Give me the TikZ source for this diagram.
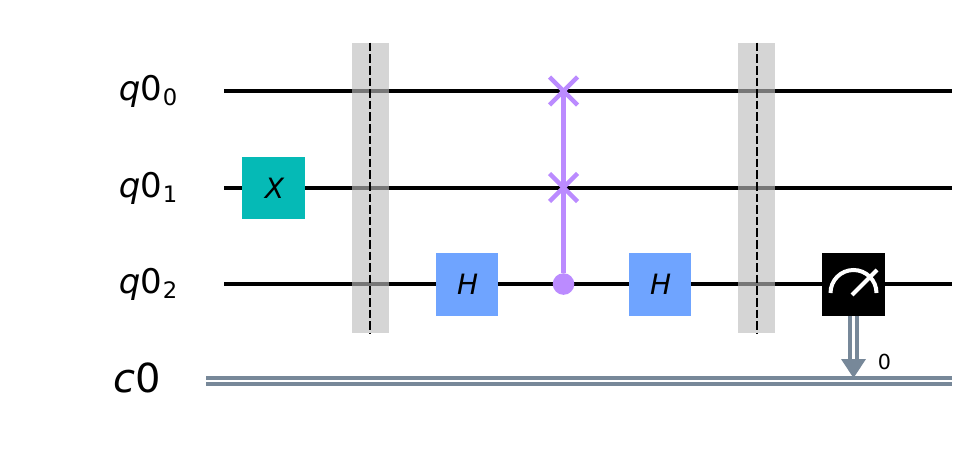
\documentclass[tikz,border=0pt]{standalone}
\usepackage{fontspec}
\setmainfont{DejaVu Sans}
\definecolor{gatex}{HTML}{05BAB6}
\definecolor{gateh}{HTML}{6FA4FF}
\definecolor{swapc}{HTML}{BB8BFF}
\definecolor{clbit}{HTML}{778899}
\definecolor{shade}{HTML}{BDBDBD}
\newcommand{\qlabel}[1]{\fontsize{25.5pt}{27pt}\selectfont\textit{q}0\kern0.6pt\raisebox{-4pt}{\fontsize{17pt}{19pt}\selectfont #1}}
\tikzset{
  wire/.style={line width=3.3pt,black},
  cwire/.style={line width=3.2pt,clbit},
  gatebox/.style={minimum width=47pt,minimum height=47pt,inner sep=0pt,font=\fontsize{21pt}{23pt}\selectfont\itshape},
  barrierbox/.style={fill=shade,fill opacity=.63,minimum width=27.75pt,minimum height=217.5pt,inner sep=0pt},
  swapline/.style={line width=3.2pt,swapc},
  lbl/.style={anchor=base east,inner sep=0pt}
}
\begin{document}
\begin{tikzpicture}[x=0.75pt,y=-0.75pt]
  \useasboundingbox (0,0) rectangle (974,454);
  % quantum wires
  \foreach \n/\y in {0/91,1/187.7,2/284} {
    \coordinate (qin\n) at (224,\y);
    \coordinate (qout\n) at (952,\y);
    \draw[wire] (qin\n) -- (qout\n);
  }
  % classical wire
  \foreach \n/\y in {a/378,b/384} {
    \coordinate (cin\n) at (206,\y);
    \coordinate (cout\n) at (952,\y);
    \draw[cwire] (cin\n) -- (cout\n);
  }
  \node[lbl] (lblq0) at (177.5,100.5) {\qlabel{0}};
  \node[lbl] (lblq1) at (177.5,197) {\qlabel{1}};
  \node[lbl] (lblq2) at (177.5,293.5) {\qlabel{2}};
  \node[lbl,font=\fontsize{30pt}{32pt}\selectfont] (lblc) at (161,392) {\textit{c}0};
  % barriers
  \foreach \n/\x/\d in {a/370.5/-0.4,b/756.5/0.2} {
    \node[barrierbox] (bar\n) at (\x,188) {};
    \draw[line width=1.6pt,dash pattern=on 6.5pt off 2.2pt] ([xshift=\d pt]bar\n.north) -- ([xshift=\d pt]bar\n.south);
  }
  % gates
  \node[gatebox,fill=gatex] (gx) at (273.5,188) {\kern1.5pt X};
  \node[gatebox,fill=gateh] (ha) at (467,284.5) {\kern1pt H};
  \node[gatebox,fill=gateh] (hb) at (660,284.5) {\kern1pt H};
  % swap
  \coordinate (swa) at (563.5,91);
  \coordinate (swb) at (563.5,187.5);
  \node[circle,fill=swapc,minimum size=16.2pt,inner sep=0pt] (ctl) at (563.5,284) {};
  \draw[swapline] (swa) -- (ctl);
  \foreach \p in {swa,swb} {
    \draw[swapline] ([shift={(-14,-14)}]\p) -- ([shift={(14,14)}]\p);
    \draw[swapline] ([shift={(-14,14)}]\p) -- ([shift={(14,-14)}]\p);
  }
  % measure
  \node[fill=black,minimum size=47pt,inner sep=0pt] (meas) at (853.5,284.5) {};
  \draw[white,line width=3pt] (830.5,293) arc[start angle=180,end angle=360,radius=23];
  \draw[white,line width=3pt] (852,295) -- (877,270);
  \coordinate (tip) at (853.5,378);
  \foreach \d in {-3.4,3.4}
    \draw[line width=3pt,clbit] ([xshift=\d*0.75pt]meas.south) -- ([xshift=\d*0.75pt]meas.south |- 0,362);
  \fill[clbit] (841,359) -- (866,359) -- (tip) -- cycle;
  \node[inner sep=0pt,font=\fontsize{15.5pt}{17pt}\selectfont] (cidx) at (884.5,361.5) {0};
\end{tikzpicture}
\end{document}
